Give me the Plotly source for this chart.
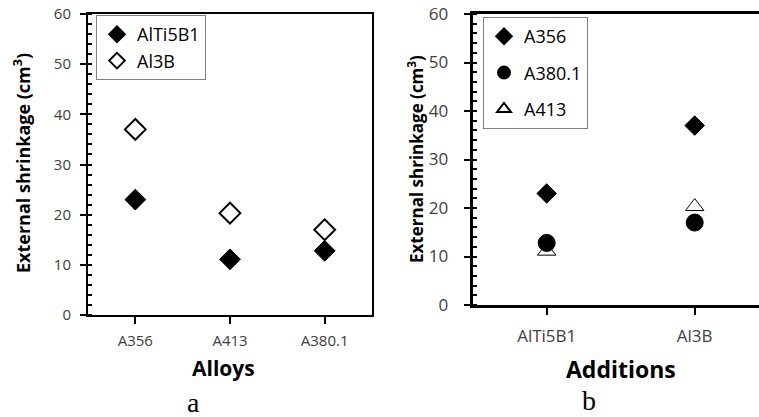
import plotly.graph_objects as go

# ---------------- data ----------------
alloys = ["A356", "A413", "A380.1"]
alti5b1_by_alloy = [23.0, 11.1, 12.8]
al3b_by_alloy = [37.0, 20.3, 17.0]

additions = ["AlTi5B1", "Al3B"]
a356_by_add = [23.0, 37.0]
a380_by_add = [12.8, 17.0]
a413_by_add = [11.1, 20.3]

y_ticks = [0, 10, 20, 30, 40, 50, 60]

W, H = 759, 417
def px(x):
    return x / W
def py(y):
    return (H - y) / H

FONT = "Open Sans"

fig = go.Figure()

# left panel
fig.add_trace(go.Scatter(x=alloys, y=alti5b1_by_alloy, mode="markers", name="AlTi5B1",
                         marker=dict(symbol="diamond", size=16, color="black",
                                     line=dict(color="black", width=1)),
                         xaxis="x", yaxis="y", legend="legend"))
fig.add_trace(go.Scatter(x=alloys, y=al3b_by_alloy, mode="markers", name="Al3B",
                         marker=dict(symbol="diamond", size=16, color="white",
                                     line=dict(color="black", width=2)),
                         xaxis="x", yaxis="y", legend="legend"))

# right panel
fig.add_trace(go.Scatter(x=additions, y=a356_by_add, mode="markers", name="A356",
                         marker=dict(symbol="diamond", size=15, color="black",
                                     line=dict(color="black", width=1)),
                         xaxis="x2", yaxis="y2", legend="legend2", legendrank=1,
                         legendgroup="g1"))
fig.add_trace(go.Scatter(x=additions, y=a413_by_add, mode="markers", name="A413",
                         marker=dict(symbol="triangle-up", size=16, color="white",
                                     line=dict(color="black", width=1)),
                         xaxis="x2", yaxis="y2", legend="legend2", legendrank=3,
                         legendgroup="g3"))
fig.add_trace(go.Scatter(x=additions, y=a380_by_add, mode="markers", name="A380.1",
                         marker=dict(symbol="circle", size=17, color="black",
                                     line=dict(color="black", width=1)),
                         xaxis="x2", yaxis="y2", legend="legend2", legendrank=2,
                         legendgroup="g2"))

# geometry
L_x0, L_x1, L_y0, L_y1 = 88, 372, 14, 315
R_x0, R_band, R_y0, R_y1 = 472.7, 148.0, 14, 305
R_x1 = W
r_range_end = -0.5 + (R_x1 - R_x0) / R_band

common_y = dict(range=[0, 60], tickvals=y_ticks, showgrid=False, zeroline=False,
                ticks="outside", ticklen=6, showline=True, linecolor="black",
                minor=dict(ticks="inside", dtick=2, ticklen=4, tickwidth=1.5, tickcolor="black"),
                tickcolor="black", automargin=False)
ov = dict(showticklabels=False, showgrid=False, zeroline=False, showline=False,
          automargin=False, tickcolor="black", tickwidth=2, ticks="inside")

fig.update_layout(
    width=W, height=H,
    margin=dict(l=0, r=0, t=0, b=0, autoexpand=False),
    paper_bgcolor="white", plot_bgcolor="white",
    font=dict(family=FONT, color="black"),
    xaxis=dict(domain=[px(L_x0), px(L_x1)], anchor="y", type="category",
               categoryarray=alloys, range=[-0.5, 2.5], automargin=False,
               showgrid=False, zeroline=False, showline=True, linecolor="black",
               linewidth=2, mirror=True, ticks="outside", ticklen=7, tickwidth=2,
               tickcolor="black", ticklabelstandoff=4,
               tickfont=dict(size=15, color="#404040")),
    yaxis=dict(domain=[py(L_y1), py(L_y0)], anchor="x", linewidth=2, mirror=True,
               tickwidth=2, ticklabelstandoff=6,
               tickfont=dict(size=15, color="#404040"), **common_y),
    xaxis3=dict(overlaying="x", anchor="y", range=[-0.5, 2.5], tickvals=[0, 1, 2],
                ticklen=5, **ov),
    yaxis3=dict(overlaying="y", anchor="x", range=[0, 60], tickvals=y_ticks,
                ticklen=6, **ov),
    xaxis2=dict(domain=[px(R_x0), 1.0], anchor="y2", type="category",
                categoryarray=additions, range=[-0.5, r_range_end], automargin=False,
                showgrid=False, zeroline=False, showline=True, linecolor="black",
                linewidth=3, mirror=True, ticks="outside", ticklen=7, tickwidth=2,
                tickcolor="black", ticklabelstandoff=7,
                tickfont=dict(size=17, color="#404040")),
    yaxis2=dict(domain=[py(R_y1), py(R_y0)], anchor="x2", linewidth=3, mirror=False,
                tickwidth=2, ticklabelstandoff=12,
                tickfont=dict(size=17, color="#404040"), **common_y),
    xaxis4=dict(overlaying="x2", anchor="y2", range=[-0.5, r_range_end], tickvals=[0, 1],
                ticklen=6, **ov),
    yaxis4=dict(overlaying="y2", anchor="x2", range=[0, 60], tickvals=y_ticks,
                ticklen=6, **ov),
    legend=dict(x=px(96), y=py(15), xanchor="left", yanchor="top",
                bordercolor="#808080", borderwidth=1, bgcolor="white",
                font=dict(size=18, color="black", family=FONT), itemsizing="constant",
                tracegroupgap=0),
    legend2=dict(x=px(483), y=py(17), xanchor="left", yanchor="top",
                 bordercolor="#808080", borderwidth=1, bgcolor="white",
                 font=dict(size=18, color="black", family=FONT), itemsizing="constant",
                 tracegroupgap=10),
    showlegend=True,
)

annotations = [
    dict(text="External shrinkage (cm<sup>3</sup>)", x=px(22), y=py(163), textangle=-90,
         font=dict(size=18, family=FONT, color="black", weight="bold")),
    dict(text="External shrinkage (cm<sup>3</sup>)", x=px(416), y=py(159), textangle=-90,
         font=dict(size=17, family=FONT, color="black", weight="bold")),
    dict(text="Alloys", x=px(223), y=py(368),
         font=dict(size=21, family=FONT, color="black", weight="bold")),
    dict(text="Additions", x=px(621), y=py(369),
         font=dict(size=23, family=FONT, color="black", weight="bold")),
    dict(text="a", x=px(193), y=py(402),
         font=dict(size=28, family="Liberation Serif", color="black")),
    dict(text="b", x=px(589), y=py(400),
         font=dict(size=28, family="Liberation Serif", color="black")),
]
for a in annotations:
    a.update(xref="paper", yref="paper", showarrow=False, xanchor="center", yanchor="middle")
fig.update_layout(annotations=annotations)

fig.write_html("out.html", config={"displayModeBar": False},
               post_script="document.body.style.margin='0';document.body.style.overflow='hidden';")
